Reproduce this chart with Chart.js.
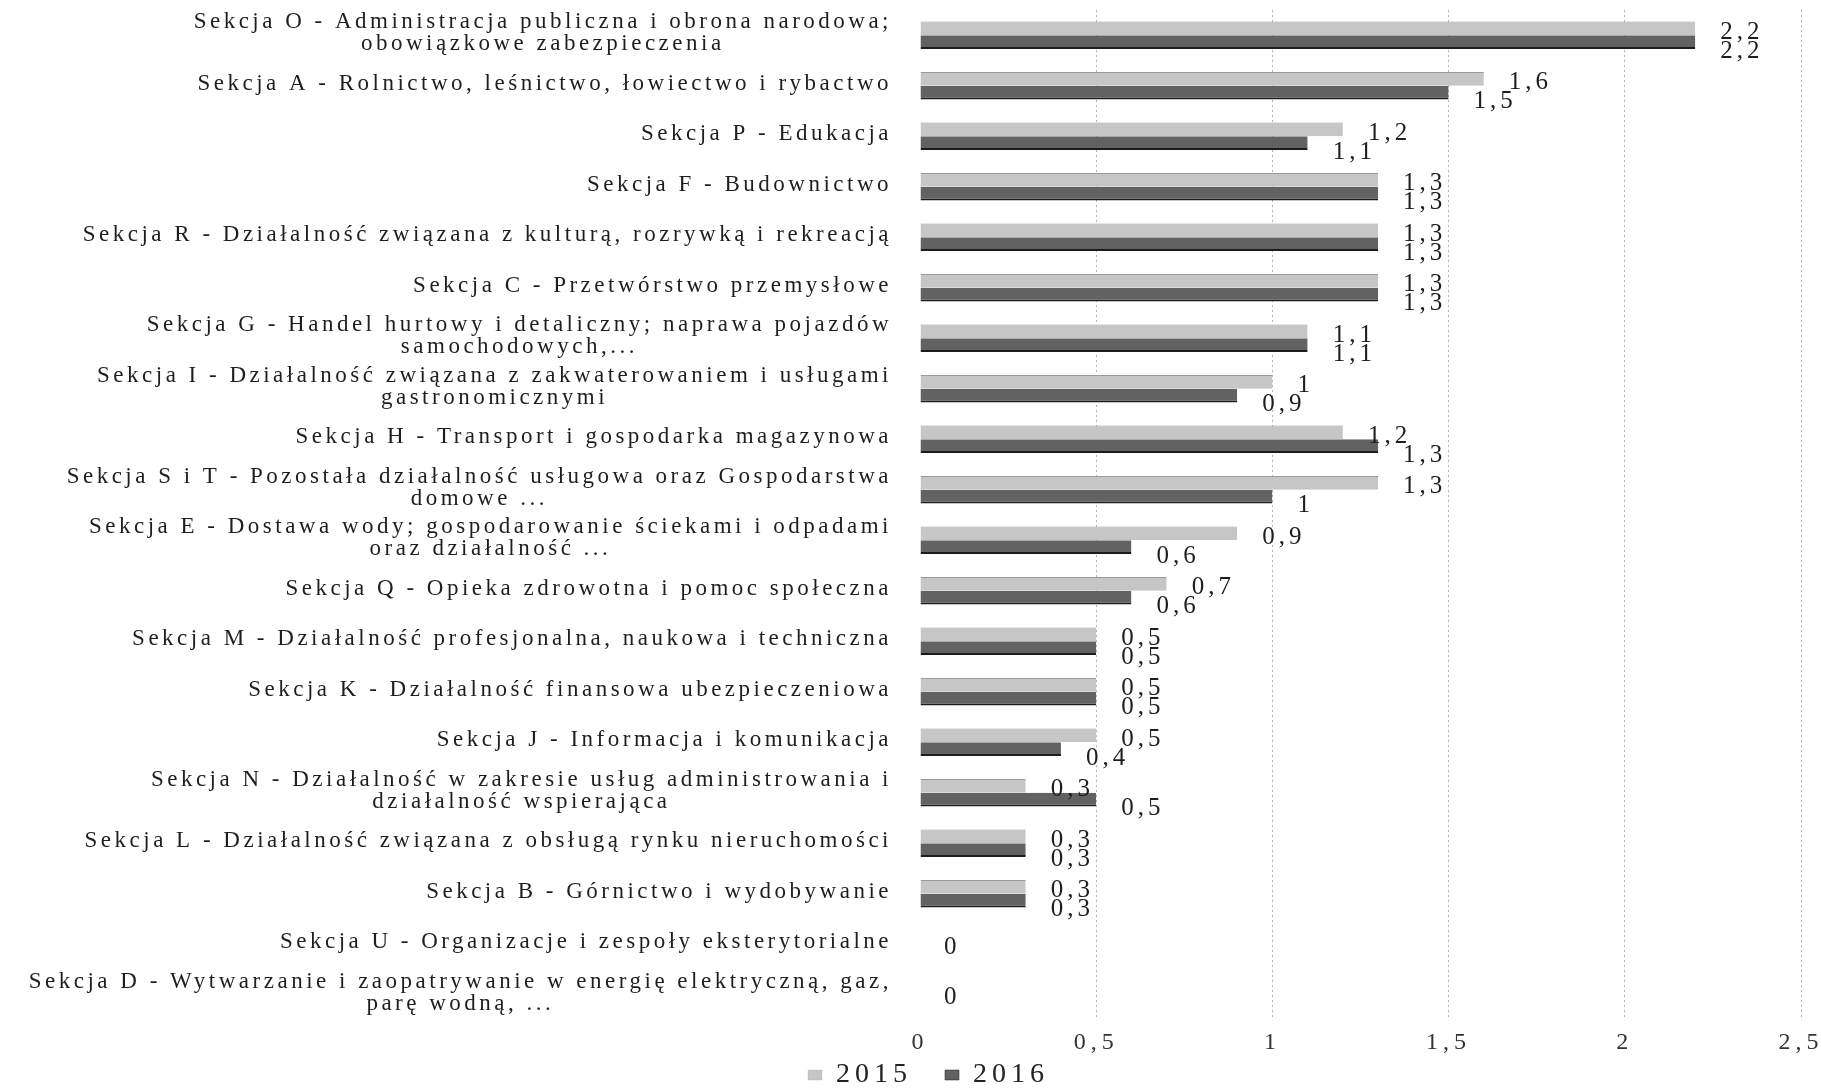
<!DOCTYPE html>
<html lang="pl">
<head>
<meta charset="UTF-8">
<title>Sekcje 2015-2016</title>
<script src="https://cdn.jsdelivr.net/npm/chart.js"></script>
<style>
  html, body { margin: 0; padding: 0; background: #fff; }
  #wrap { width: 1821px; height: 1088px; position: relative; }
</style>
</head>
<body>
<div id="wrap"><canvas id="chart"></canvas></div>
<script>
const categories = [
  ['Sekcja O - Administracja publiczna i obrona narodowa;', 'obowiązkowe zabezpieczenia'],
  'Sekcja A - Rolnictwo, leśnictwo, łowiectwo i rybactwo',
  'Sekcja P - Edukacja',
  'Sekcja F - Budownictwo',
  'Sekcja R - Działalność związana z kulturą, rozrywką i rekreacją',
  'Sekcja C - Przetwórstwo przemysłowe',
  ['Sekcja G - Handel hurtowy i detaliczny; naprawa pojazdów', 'samochodowych,...'],
  ['Sekcja I - Działalność związana z zakwaterowaniem i usługami', 'gastronomicznymi'],
  'Sekcja H - Transport i gospodarka magazynowa',
  ['Sekcja S i T - Pozostała działalność usługowa oraz Gospodarstwa', 'domowe ...'],
  ['Sekcja E - Dostawa wody; gospodarowanie ściekami i odpadami', 'oraz działalność ...'],
  'Sekcja Q - Opieka zdrowotna i pomoc społeczna',
  'Sekcja M - Działalność profesjonalna, naukowa i techniczna',
  'Sekcja K - Działalność finansowa ubezpieczeniowa',
  'Sekcja J - Informacja i komunikacja',
  ['Sekcja N - Działalność w zakresie usług administrowania i', 'działalność wspierająca'],
  'Sekcja L - Działalność związana z obsługą rynku nieruchomości',
  'Sekcja B - Górnictwo i wydobywanie',
  'Sekcja U - Organizacje i zespoły eksterytorialne',
  ['Sekcja D - Wytwarzanie i zaopatrywanie w energię elektryczną, gaz,', 'parę wodną, ...']
];
const values2015 = [2.2, 1.6, 1.2, 1.3, 1.3, 1.3, 1.1, 1.0, 1.2, 1.3, 0.9, 0.7, 0.5, 0.5, 0.5, 0.3, 0.3, 0.3, 0, 0];
const values2016 = [2.2, 1.5, 1.1, 1.3, 1.3, 1.3, 1.1, 0.9, 1.3, 1.0, 0.6, 0.6, 0.5, 0.5, 0.4, 0.5, 0.3, 0.3, 0, 0];
const seriesNames = ['2015', '2016'];
const xMin = 0, xMax = 2.5, xStep = 0.5;

const SERIF = '"Liberation Serif", "Times New Roman", serif';
const fmt = v => String(v).replace('.', ',');

Chart.defaults.font.family = SERIF;
Chart.defaults.color = '#222';

// the scan has very loose letter spacing everywhere
const spacing = {
  id: 'spacing',
  beforeUpdate(c) { c.ctx.letterSpacing = '5px'; },
  beforeDraw(c) { c.ctx.letterSpacing = '5px'; }
};

// legend items are far apart (big padding), pull the legend row up under the axis
const legendUp = {
  id: 'legendUp',
  afterLayout(c) {
    const lg = c.legend;
    if (!lg) return;
    lg.top -= 28;
    lg.bottom -= 28;
  }
};

// category labels: first line right aligned, second line centred under the first
const LINE_H = 22;
const sideLabels = {
  id: 'sideLabels',
  afterDraw(chart) {
    const { ctx, chartArea, scales: { y } } = chart;
    ctx.save();
    ctx.font = '23px ' + SERIF;
    ctx.letterSpacing = '3.5px';
    ctx.fillStyle = '#1e1e1e';
    ctx.textBaseline = 'middle';
    const right = chartArea.left - 28;
    categories.forEach((lab, i) => {
      const lines = Array.isArray(lab) ? lab : [lab];
      const yc = y.getPixelForValue(i);
      const top = yc - (lines.length - 1) * LINE_H / 2 - 2;
      const w0 = ctx.measureText(lines[0]).width;
      lines.forEach((t, k) => {
        if (k === 0) {
          ctx.textAlign = 'right';
          ctx.fillText(t, right, top);
        } else {
          ctx.textAlign = 'center';
          ctx.fillText(t, right - w0 / 2, top + k * LINE_H);
        }
      });
    });
    ctx.restore();
  }
};

// value labels after the bars
const valueLabels = {
  id: 'valueLabels',
  afterDatasetsDraw(chart) {
    const { ctx } = chart;
    const m0 = chart.getDatasetMeta(0), m1 = chart.getDatasetMeta(1);
    ctx.save();
    ctx.font = '25px ' + SERIF;
    ctx.letterSpacing = '4px';
    ctx.fillStyle = '#1e1e1e';
    ctx.textAlign = 'left';
    ctx.textBaseline = 'middle';
    categories.forEach((_, i) => {
      const a = m0.data[i], b = m1.data[i];
      if (values2015[i] === 0 && values2016[i] === 0) {
        ctx.fillText(fmt(0), a.x + 24, (a.y + b.y) / 2 + 3);
        return;
      }
      ctx.fillText(fmt(values2015[i]), a.x + 25, a.y + 4);
      ctx.fillText(fmt(values2016[i]), b.x + 25, b.y + 9);
    });
    ctx.restore();
  }
};

new Chart(document.getElementById('chart'), {
  type: 'bar',
  data: {
    labels: categories,
    datasets: [
      { label: seriesNames[0], data: values2015, backgroundColor: '#c6c6c6',
        borderColor: '#9a9a9a', borderWidth: { top: 1, bottom: 0, left: 0, right: 0 }, borderSkipped: false },
      { label: seriesNames[1], data: values2016, backgroundColor: '#626262',
        borderColor: '#1c1c1c', borderWidth: { top: 0, bottom: 2, left: 0, right: 0 }, borderSkipped: false }
    ]
  },
  options: {
    indexAxis: 'y',
    responsive: true,
    maintainAspectRatio: false,
    animation: false,
    layout: { padding: { top: 10, left: 36, right: 0, bottom: -39 } },
    datasets: { bar: { categoryPercentage: 0.54, barPercentage: 1.0 } },
    scales: {
      x: {
        min: xMin, max: xMax,
        ticks: {
          stepSize: xStep,
          padding: 8,
          font: { size: 24 },
          color: '#333',
          callback: v => fmt(v)
        },
        grid: {
          color: c => (c.tick && c.tick.value === 0) ? 'rgba(0,0,0,0)' : '#b4b4b4',
          lineWidth: 1,
          tickLength: 0,
          drawTicks: false
        },
        border: { display: false, dash: [2, 3] },
        afterFit(s) { s.height = 36; s.paddingRight = 20; }
      },
      y: {
        ticks: { display: false },
        grid: { display: false },
        border: { display: false },
        afterFit(s) { s.width = 884; }
      }
    },
    plugins: {
      legend: {
        position: 'bottom',
        labels: {
          font: { size: 28 },
          color: '#222',
          boxWidth: 14,
          boxHeight: 10,
          padding: 33
        }
      },
      tooltip: { enabled: false }
    }
  },
  plugins: [spacing, legendUp, sideLabels, valueLabels]
});
</script>
</body>
</html>
